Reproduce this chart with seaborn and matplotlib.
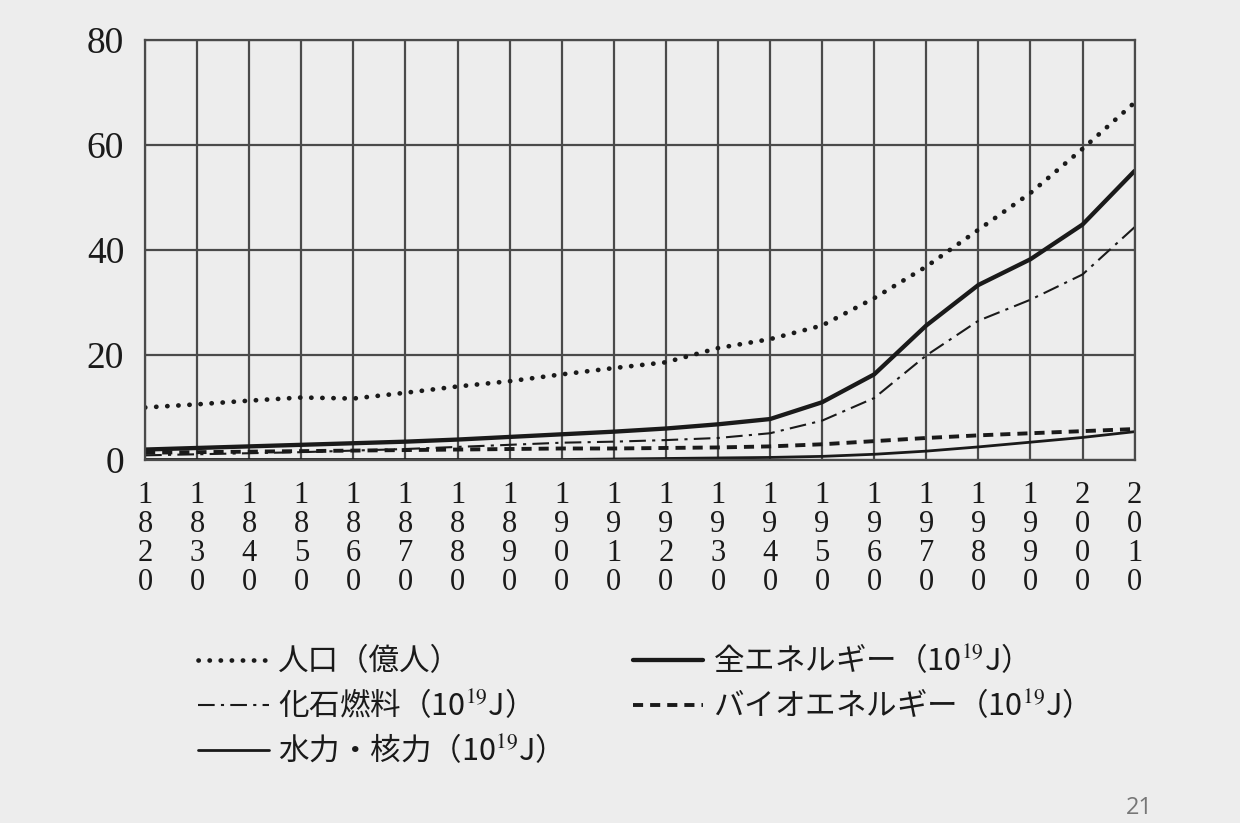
import matplotlib
matplotlib.use("Agg")
import matplotlib.pyplot as plt
import seaborn as sns
import numpy as np

years = [1820, 1830, 1840, 1850, 1860, 1870, 1880, 1890, 1900, 1910,
         1920, 1930, 1940, 1950, 1960, 1970, 1980, 1990, 2000, 2010]
population = [10.0, 10.6, 11.3, 11.9, 11.7, 12.8, 14.0, 15.0, 16.3, 17.5,
              18.6, 21.3, 23.0, 25.6, 30.8, 36.8, 43.8, 50.8, 59.2, 68.0]
total_energy = [2.0, 2.3, 2.6, 2.9, 3.2, 3.5, 3.9, 4.4, 4.9, 5.4,
                6.0, 6.8, 7.8, 11.0, 16.3, 25.6, 33.3, 38.2, 44.8, 55.0]
fossil = [0.9, 1.1, 1.3, 1.5, 1.8, 2.1, 2.5, 2.9, 3.3, 3.5,
          3.8, 4.2, 5.1, 7.5, 11.8, 19.9, 26.5, 30.5, 35.3, 44.3]
bio = [1.4, 1.5, 1.6, 1.7, 1.8, 1.9, 2.0, 2.1, 2.2, 2.2,
       2.3, 2.4, 2.6, 3.0, 3.6, 4.2, 4.7, 5.1, 5.5, 5.9]
hydro = [0.1, 0.1, 0.1, 0.1, 0.1, 0.1, 0.1, 0.1, 0.1, 0.2,
         0.3, 0.4, 0.5, 0.7, 1.1, 1.7, 2.5, 3.4, 4.3, 5.4]

labels = {
    "pop": "人口（億人）",
    "fossil": "化石燃料（10$^{19}$J）",
    "hydro": "水力・核力（10$^{19}$J）",
    "total": "全エネルギー（10$^{19}$J）",
    "bio": "バイオエネルギー（10$^{19}$J）",
}
yticks = [0, 20, 40, 60, 80]

sns.set_style("white")
plt.rcParams["font.family"] = ["Liberation Serif", "Noto Sans CJK JP", "DejaVu Serif"]
plt.rcParams["mathtext.fontset"] = "stix"

BG = "#ededed"
GRID = "#4a4a4a"
INK = "#1a1a1a"

fig = plt.figure(figsize=(12.4, 8.23), dpi=100, facecolor=BG)
ax = fig.add_axes([0.117, 0.441, 0.798, 0.511])
ax.set_facecolor(BG)

sns.lineplot(x=years, y=population, ax=ax, color=INK, lw=3.4,
             linestyle=(0, (0.05, 2.3)), dash_capstyle="round", label=labels["pop"])
sns.lineplot(x=years, y=fossil, ax=ax, color=INK, lw=1.5,
             linestyle=(0, (8, 3, 1.5, 3)), label=labels["fossil"])
sns.lineplot(x=years, y=hydro, ax=ax, color=INK, lw=2.0,
             linestyle="-", label=labels["hydro"])
sns.lineplot(x=years, y=total_energy, ax=ax, color=INK, lw=3.1,
             linestyle="-", label=labels["total"])
sns.lineplot(x=years, y=bio, ax=ax, color=INK, lw=2.8,
             linestyle=(0, (2.6, 1.8)), label=labels["bio"])

ax.set_xlim(1820, 2010)
ax.set_ylim(0, 80)
ax.set_xticks(years)
ax.set_xticklabels(["\n".join(str(y)) for y in years], fontsize=22,
                   linespacing=1.0, family=["Liberation Serif"], color="#1a1a1a")
ax.set_yticks(yticks)
ax.set_yticklabels([str(v) for v in yticks], fontsize=27,
                   family=["Liberation Serif"], color="#1a1a1a")
ax.grid(True, color=GRID, lw=1.6)
ax.tick_params(axis="both", direction="out", length=11, width=1.6, color=GRID)
ax.tick_params(axis="y", pad=4)
ax.tick_params(axis="x", pad=4)
for s in ax.spines.values():
    s.set_color(GRID)
    s.set_linewidth(1.6)
ax.set_xlabel("")
ax.set_ylabel("")

handles, labs = ax.get_legend_handles_labels()
if ax.get_legend():
    ax.get_legend().remove()
leg = fig.legend(handles, labs, loc="upper left", bbox_to_anchor=(0.160, 0.218),
                 ncol=2, frameon=False, handlelength=2.3, handletextpad=0.3,
                 columnspacing=2.85, labelspacing=0.36, borderpad=0, borderaxespad=0,
                 prop={"family": ["Noto Sans CJK JP", "DejaVu Sans"], "size": 22})
for t in leg.get_texts():
    t.set_color("#1a1a1a")

fig.text(0.919, 0.004, "21", fontsize=17, color="#777777",
         family=["Open Sans", "DejaVu Sans"], ha="center", va="bottom")

fig.savefig("out.png", dpi=100, facecolor=BG)
